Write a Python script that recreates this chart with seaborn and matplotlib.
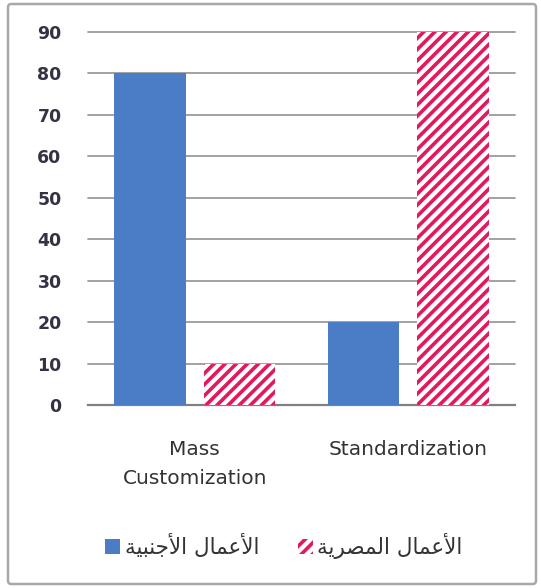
import matplotlib
matplotlib.use("Agg")
import matplotlib.pyplot as plt
from matplotlib.patches import FancyBboxPatch, Patch
import seaborn as sns
import pandas as pd

# Arabic labels written in presentation forms (visual order) so they render joined
foreign_label = "\uFE94\uFEF4\uFE92\uFEE8\uFE9F\uFEF7\uFE8D \uFEDD\uFE8E\uFEE4\uFECB\uFEF7\uFE8D"   # الأعمال الأجنبية
egyptian_label = "\uFE94\uFEF3\uFEAE\uFEBC\uFEE4\uFEDF\uFE8D \uFEDD\uFE8E\uFEE4\uFECB\uFEF7\uFE8D"  # الأعمال المصرية

categories = ["Mass\nCustomization", "Standardization"]
foreign_values = [80, 20]
egyptian_values = [10, 90]
y_ticks = [0, 10, 20, 30, 40, 50, 60, 70, 80, 90]

df = pd.DataFrame({
    "category": categories * 2,
    "group": [foreign_label] * 2 + [egyptian_label] * 2,
    "value": foreign_values + egyptian_values,
})

sns.set_theme(style="white")
plt.rcParams["font.family"] = ["DejaVu Sans"]
plt.rcParams["hatch.linewidth"] = 2.6

blue = "#4A7DC6"
pink = "#E2195F"

fig = plt.figure(figsize=(5.41, 5.88), dpi=100)
ax = fig.add_axes([88 / 541, 1 - 405 / 588, (515 - 88) / 541, (405 - 32) / 588])

sns.barplot(data=df, x="category", y="value", hue="group",
            palette=[blue, "white"], width=0.84, gap=0.2,
            saturation=1, legend=False, ax=ax, zorder=3)

# Style the second series as hatched bars
n = len(categories)
for i, bar in enumerate(ax.patches):
    if i >= n:
        bar.set_facecolor("white")
        bar.set_edgecolor(pink)
        bar.set_hatch("///")
    bar.set_linewidth(0)

ax.set_xlim(-0.5, 1.5)
ax.set_ylim(0, 90)
ax.set_yticks(y_ticks)
ax.yaxis.grid(True, color="#9A9A9A", linewidth=1.3, zorder=1)
ax.set_axisbelow(True)
for gl in ax.get_ygridlines():
    gl.set_clip_on(False)
for s in ["top", "right", "left"]:
    ax.spines[s].set_visible(False)
ax.spines["bottom"].set_color("#808080")
ax.spines["bottom"].set_linewidth(1.6)
ax.set_xlabel("")
ax.set_ylabel("")
ax.tick_params(axis="y", length=0, pad=19, labelsize=12.5, labelcolor="#333344")
ax.tick_params(axis="x", length=0, pad=25, labelsize=14.5, labelcolor="#333333")
for lab in ax.get_yticklabels():
    lab.set_fontweight("bold")
for lab in ax.get_xticklabels():
    lab.set_linespacing(1.7)

handles = [
    Patch(facecolor=blue, edgecolor="none", label=foreign_label),
    Patch(facecolor="white", edgecolor=pink, hatch="///", linewidth=0, label=egyptian_label),
]
fig.legend(handles=handles, loc="center", bbox_to_anchor=(284 / 541, 1 - 546 / 588),
           ncol=2, frameon=False, fontsize=15.5, handlelength=0.7, handleheight=0.7,
           handletextpad=0.2, columnspacing=1.8, labelcolor="#333333")

# Outer chart frame
frame = FancyBboxPatch((8 / 541, 4 / 588), 528 / 541, 580 / 588,
                       boxstyle="round,pad=0,rounding_size=0.006",
                       transform=fig.transFigure, facecolor="none",
                       edgecolor="#A8A8A8", linewidth=1.8)
fig.patches.append(frame)

fig.savefig("out.png", dpi=100)
